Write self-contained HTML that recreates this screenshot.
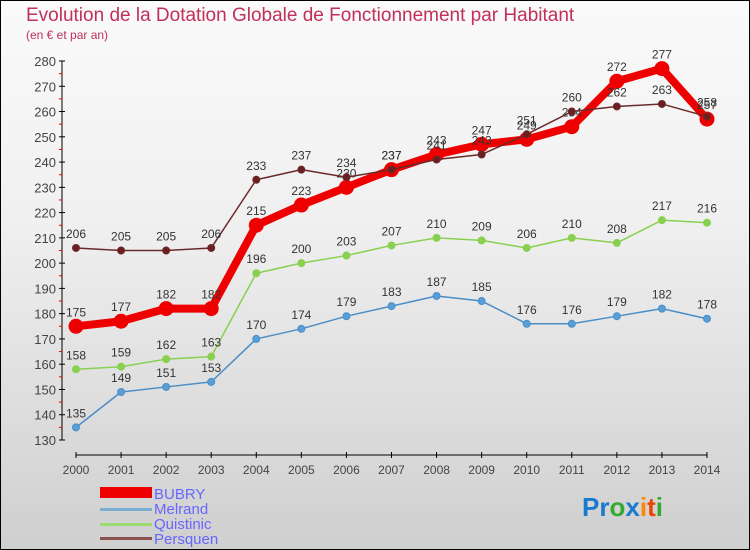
<!DOCTYPE html>
<html><head><meta charset="utf-8"><style>
body{margin:0}
#c{width:750px;height:550px;position:relative;box-sizing:border-box;border:1px solid #000;background:linear-gradient(#fafafa,#f0f0f0 40%,#cfcfcf);font-family:"Liberation Sans",sans-serif;overflow:hidden}
</style></head><body>
<div id="c">
<svg id="s" width="750" height="550" style="position:absolute;left:-1px;top:-1px">
<text x="26" y="21" font-size="19" fill="#c0305a">Evolution de la Dotation Globale de Fonctionnement par Habitant</text>
<text x="26" y="39" font-size="12" fill="#c0305a">(en € et par an)</text>
<g id="axes"></g><g id="series"></g>
<g>
<rect x="100" y="487" width="52" height="11" fill="#e00"/>
<text x="154" y="499" font-size="15" fill="#66f">BUBRY</text>
<rect x="100" y="508" width="52" height="3" fill="#7aaed0"/>
<text x="154" y="514" font-size="15" fill="#66f">Melrand</text>
<rect x="100" y="523" width="52" height="3" fill="#9cdc70"/>
<text x="154" y="529" font-size="15" fill="#66f">Quistinic</text>
<rect x="100" y="537" width="52" height="3" fill="#8b5050"/>
<text x="154" y="544" font-size="15" fill="#66f">Persquen</text>
</g>
<text x="582" y="516" font-size="26" font-weight="bold"><tspan fill="#1a7ad0">Pr</tspan><tspan fill="#3a3">o</tspan><tspan fill="#1a7ad0">x</tspan><tspan fill="#f80">i</tspan><tspan fill="#e40">t</tspan><tspan fill="#3a3">i</tspan></text>
</svg></div>
<script>
const years=[2000,2001,2002,2003,2004,2005,2006,2007,2008,2009,2010,2011,2012,2013,2014];
const yTicks=[130,140,150,160,170,180,190,200,210,220,230,240,250,260,270,280];
const bubry=[175,177,182,182,215,223,230,237,243,247,249,254,272,277,257];
const melrand=[135,149,151,153,170,174,179,183,187,185,176,176,179,182,178];
const quistinic=[158,159,162,163,196,200,203,207,210,209,206,210,208,217,216];
const persquen=[206,205,205,206,233,237,234,237,241,243,251,260,262,263,258];
const NS="http://www.w3.org/2000/svg";
const X=i=>76+i*(707-76)/(years.length-1);
const Y=v=>440-(v-130)*(440-61)/150;
function mk(p,t,a){const e=document.createElementNS(NS,t);for(const k in a)e.setAttribute(k,a[k]);p.appendChild(e);return e;}
const ax=document.getElementById('axes');
let e=mk(ax,'line',{x1:62,y1:Y(280),x2:62,y2:440,stroke:'#000'});


yTicks.forEach(v=>{mk(ax,'line',{x1:59,x2:65,y1:Y(v),y2:Y(v),stroke:'#000'});
 if(v<280)mk(ax,'line',{x1:59,x2:62,y1:Y(v+5),y2:Y(v+5),stroke:'#e00'});
 const t=mk(ax,'text',{x:56,y:Y(v)+5,'font-size':13,fill:'#444','text-anchor':'end'});t.textContent=v;
 
 });
e=mk(ax,'line',{x1:76,y1:455,x2:707,y2:455,stroke:'#000'});


years.forEach((y,i)=>{mk(ax,'line',{x1:X(i),x2:X(i),y1:452,y2:458,stroke:'#000'});
 const t=mk(ax,'text',{x:X(i),y:474,'font-size':12,fill:'#444','text-anchor':'middle'});t.textContent=y;
 
 });
const sg=document.getElementById('series');
function draw(name,d,col,w,r,pc){
 const g=mk(sg,'g',{});
 
 
 mk(g,'polyline',{points:d.map((v,i)=>X(i)+','+Y(v)).join(' '),fill:'none',stroke:col,'stroke-width':w,'stroke-linejoin':'round'});
 d.forEach((v,i)=>{const c=mk(g,'circle',{cx:X(i),cy:Y(v),r:r,fill:pc,stroke:col,'stroke-width':1});
  
  
  const t=mk(g,'text',{x:X(i),y:Y(v)-10,'font-size':12,fill:'#333','text-anchor':'middle'});t.textContent=v;
  
  });
}
draw('melrand',melrand,'#4a8ec8',1.5,3.5,'#5a9ed8');
draw('quistinic',quistinic,'#8ad050',1.5,3.5,'#8ad050');
draw('bubry',bubry,'#ee0000',8,7,'#ee0000');
draw('persquen',persquen,'#6b2a2a',1.5,3.5,'#6b2020');
</script>
</body></html>
